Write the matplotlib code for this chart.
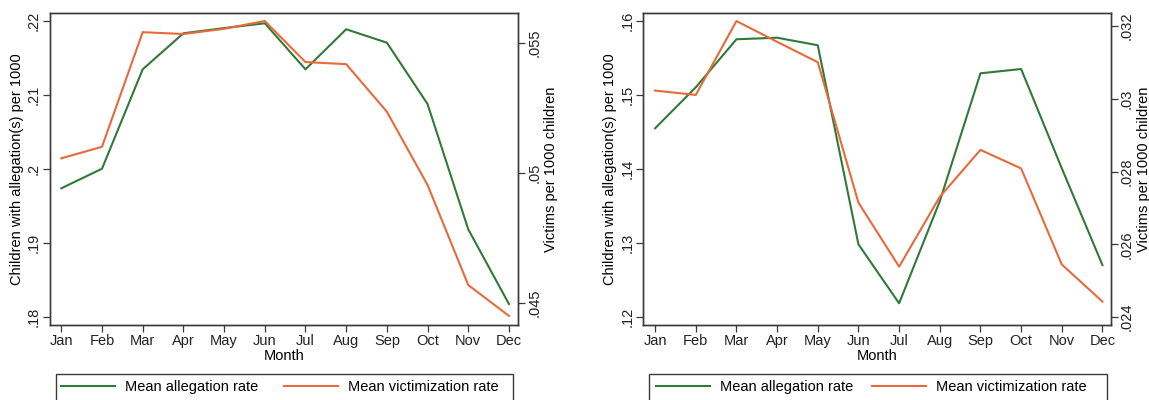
import matplotlib
matplotlib.use("Agg")
import matplotlib.pyplot as plt
from matplotlib.lines import Line2D
from matplotlib.patches import Rectangle

plt.rcParams['font.family'] = ['Liberation Sans', 'DejaVu Sans']

months = ["Jan", "Feb", "Mar", "Apr", "May", "Jun", "Jul", "Aug", "Sep", "Oct", "Nov", "Dec"]

# Panel 1
alleg_1 = [0.19735, 0.2000, 0.21343, 0.2183, 0.2190, 0.21965, 0.21343, 0.21884, 0.21703, 0.20874, 0.19181, 0.18172]
victim_1 = [0.050565, 0.05101, 0.05542, 0.05535, 0.05555, 0.05585, 0.05427, 0.05419, 0.05236, 0.04954, 0.04569, 0.04450]
left_ticks_1 = [0.18, 0.19, 0.20, 0.21, 0.22]
left_labels_1 = [".18", ".19", ".2", ".21", ".22"]
right_ticks_1 = [0.045, 0.05, 0.055]
right_labels_1 = [".045", ".05", ".055"]

# Panel 2
alleg_2 = [0.14546, 0.1510, 0.15749, 0.1577, 0.15668, 0.12978, 0.12181, 0.1356, 0.15289, 0.15347, 0.14005, 0.12698]
victim_2 = [0.03023, 0.03011, 0.03214, 0.03157, 0.03101, 0.02715, 0.02539, 0.02731, 0.02860, 0.02809, 0.02545, 0.02443]
left_ticks_2 = [0.12, 0.13, 0.14, 0.15, 0.16]
left_labels_2 = [".12", ".13", ".14", ".15", ".16"]
right_ticks_2 = [0.024, 0.026, 0.028, 0.030, 0.032]
right_labels_2 = [".024", ".026", ".028", ".03", ".032"]

series_names = ["Mean allegation rate", "Mean victimization rate"]

GREEN = "#2f7a38"
ORANGE = "#e8693a"
EDGE = "#3a3a3a"
FS = 10.5
FS_LAB = 10.5

W, H = 1149, 400
fig = plt.figure(figsize=(W / 100, H / 100), dpi=100)


def fx(px):
    return px / W


def fy(py):
    return 1 - py / H


def panel(x0, x1, alleg, victim, lt, ll, lylim, rt, rl, rylim, xlim, box_x0, box_x1, handle_x, colspace):
    ax = fig.add_axes([fx(x0), fy(325), fx(x1 - x0), (325 - 12.7) / H])
    x = list(range(len(months)))
    ax.plot(x, alleg, color=GREEN, lw=1.5)
    ax.set_xlim(*xlim)
    ax.set_ylim(*lylim)
    ax.set_yticks(lt)
    ax.set_yticklabels(ll, rotation=90, va="center", fontsize=FS)
    ax.set_xticks(x)
    ax.set_xticklabels(months, fontsize=FS)
    ax.set_ylabel("Children with allegation(s) per 1000", fontsize=FS_LAB, labelpad=2)
    ax.set_xlabel("Month", fontsize=FS, labelpad=1)
    ax2 = ax.twinx()
    ax2.plot(x, victim, color=ORANGE, lw=1.5)
    ax2.set_ylim(*rylim)
    ax2.set_yticks(rt)
    ax2.set_yticklabels(rl, rotation=90, va="center", fontsize=FS)
    ax2.set_ylabel("Victims per 1000 children", fontsize=FS_LAB, labelpad=2)
    for a in (ax, ax2):
        for s in a.spines.values():
            s.set_color(EDGE)
            s.set_linewidth(1.0)
        a.tick_params(direction="out", length=5, width=0.9, color=EDGE, pad=1.5, labelcolor="#222222")

    # legend box (clipped by the bottom of the figure, as in the reference)
    fig.patches.append(Rectangle((fx(box_x0), fy(406)), fx(box_x1 - box_x0), (406 - 374) / H,
                                 transform=fig.transFigure, fill=False,
                                 edgecolor=EDGE, linewidth=1.0))
    handles = [Line2D([0], [0], color=GREEN, lw=1.5), Line2D([0], [0], color=ORANGE, lw=1.5)]
    fig.legend(handles, series_names, loc="center left",
               bbox_to_anchor=(fx(handle_x), fy(387)), bbox_transform=fig.transFigure,
               ncol=2, fontsize=FS, frameon=False,
               handlelength=3.7, handletextpad=0.68, columnspacing=colspace,
               borderaxespad=0, borderpad=0)
    return ax


panel(50, 518.3, alleg_1, victim_1, left_ticks_1, left_labels_1, (0.17888, 0.22108),
      right_ticks_1, right_labels_1, (0.04415, 0.05617), (-0.278, 11.23),
      55.6, 512.7, 61.2, 1.78)

panel(643.3, 1111, alleg_2, victim_2, left_ticks_2, left_labels_2, (0.11888, 0.16108),
      right_ticks_2, right_labels_2, (0.023787, 0.03237), (-0.29, 11.21),
      648.7, 1106.7, 656, 1.3)

fig.savefig("out.png", dpi=100, facecolor="white")
